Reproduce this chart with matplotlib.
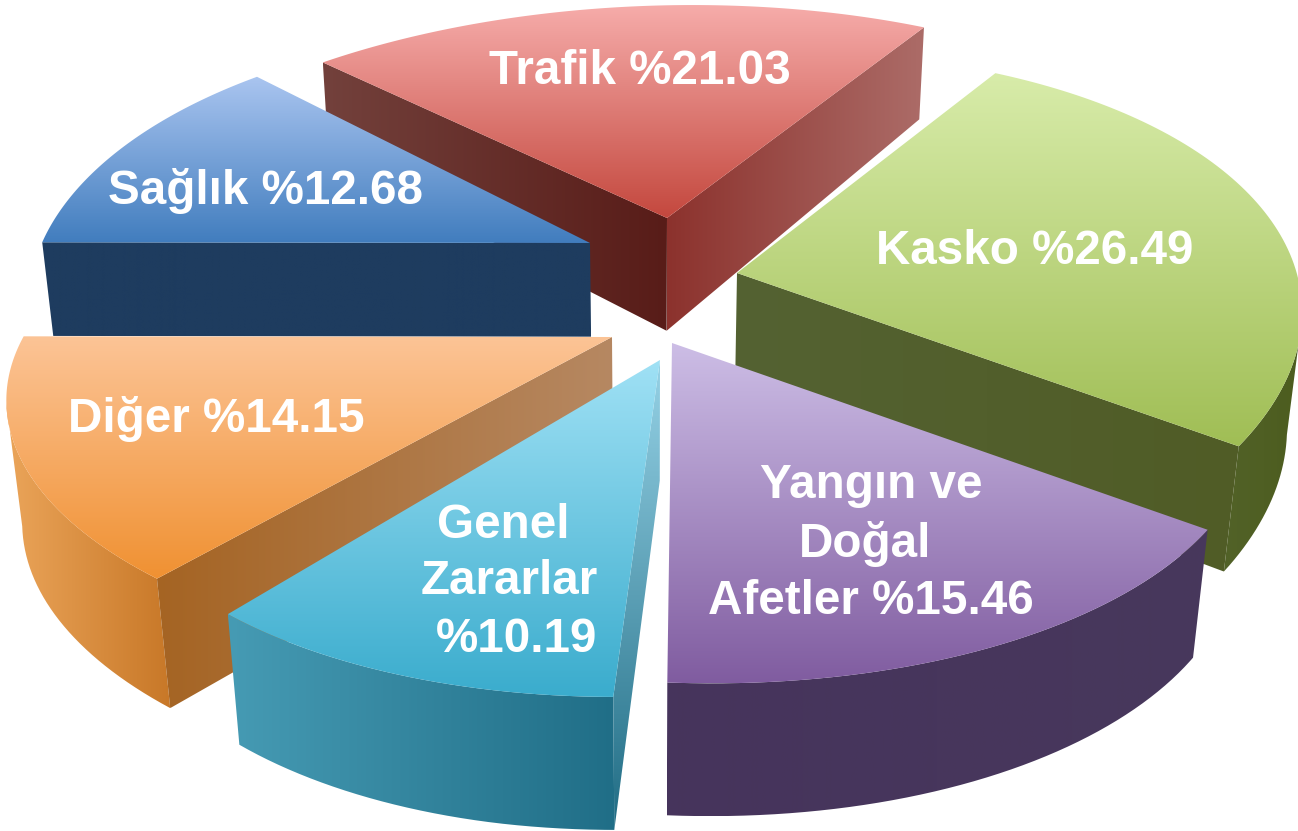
import numpy as np
import matplotlib
matplotlib.use("Agg")
import matplotlib.pyplot as plt
from matplotlib.path import Path
from matplotlib.patches import PathPatch

# ---- data ----
categories = ["Trafik", "Kasko", "Yangın ve Doğal Afetler", "Genel Zararlar", "Diğer", "Sağlık"]
values = [21.03, 26.49, 15.46, 10.19, 14.15, 12.68]
label_lines = [
    ["Trafik %21.03"],
    ["Kasko %26.49"],
    ["Yangın ve", "Doğal", "Afetler %15.46"],
    ["Genel", "Zararlar", "%10.19"],
    ["Diğer %14.15"],
    ["Sağlık %12.68"],
]

# ---- layout ----
W, H = 1298, 831
CENTER = (650, 290)
START = 136.6
A, B, K = 580.0, 263.0, 0.235
explode = [(17, -72), (87, -17), (22, 53), (10, 70), (-38, 47), (-60, -47)]
rot = [0, 1, -3.4, 0, -2.4, -2.4]
scale_x = [1.0, 0.965, 0.96, 0.93, 1.015, 0.945]
scale_y = [1.0, 1.04, 0.99, 0.98, 0.97, 1.03]
shear = [-0.12, -0.2, 0.118, -0.134, 0.0, 0.036]
thick = [1.0, 1.0, 1.0, 1.0, 1.0, 0.82]
VANISH = (650, 5400)
H_Y = [30, 220, 440, 690]
H_V = [92, 113, 125, 133]
label_pos = [
    [(640, 72)],
    [(1035, 252)],
    [(871, 486), (865, 544), (871, 601)],
    [(503, 525), (509, 582), (517, 640)],
    [(216, 419)],
    [(265, 191)],
]

# ---- colours ----
top_c = [((246, 172, 170), (196, 72, 62)), ((216, 236, 170), (160, 190, 85)),
         ((205, 190, 230), (128, 92, 160)), ((160, 225, 245), (58, 172, 205)),
         ((252, 196, 150), (240, 145, 50)), ((170, 197, 240), (65, 125, 190))]
rim_c = [((120, 60, 60), (120, 60, 60)), ((82, 98, 40), (76, 92, 30)),
         ((70, 52, 92), (72, 56, 92)), ((70, 155, 180), (32, 110, 135)),
         ((235, 165, 90), (200, 120, 40)), ((30, 60, 95), (30, 60, 95))]
# cut faces: start edge then end edge, (colour 0, colour 1, vertical)
cut_c = [[((115, 65, 60), (88, 28, 24), False), ((140, 50, 45), (172, 108, 104), False)],
         [((84, 98, 50), (80, 92, 38), False), ((84, 98, 50), (80, 92, 38), False)],
         [((70, 52, 92), (70, 52, 92), False), ((70, 52, 92), (70, 52, 92), False)],
         [((150, 210, 230), (32, 108, 132), True), ((160, 215, 235), (160, 215, 235), False)],
         [((165, 100, 35), (182, 136, 98), False), ((165, 100, 35), (182, 136, 98), False)],
         [((30, 60, 95), (30, 60, 95), False), ((30, 60, 95), (30, 60, 95), False)]]

fig = plt.figure(figsize=(W / 100, H / 100), dpi=100, facecolor="white")
ax = fig.add_axes([0, 0, 1, 1])
ax.set_axis_off()


def project(theta_deg, i):
    t = np.radians(theta_deg + rot[i])
    X, Y = np.cos(t), np.sin(t)
    d = 1 + K * Y
    sy = -B * Y / d * scale_y[i]
    sx = A * X / d * scale_x[i] + shear[i] * sy
    return np.column_stack([sx, sy])


def extrude(pts, scale):
    h = np.interp(pts[:, 1], H_Y, H_V) * scale
    t = h / (VANISH[1] - pts[:, 1])
    out = pts.copy()
    out[:, 0] += (VANISH[0] - pts[:, 0]) * t
    out[:, 1] += h
    return out


def fill(poly, c0, c1, vertical=False):
    poly = np.asarray(poly)
    x0, x1 = poly[:, 0].min(), poly[:, 0].max()
    y0, y1 = poly[:, 1].min(), poly[:, 1].max()
    s = np.linspace(0, 1, 256)[:, None]
    grad = (1 - s) * np.array(c0) / 255 + s * np.array(c1) / 255
    img = grad[:, None, :] if vertical else grad[None, :, :]
    im = ax.imshow(img, extent=(x0, x1, y1, y0), aspect="auto", interpolation="bilinear", zorder=order)
    patch = PathPatch(Path(np.vstack([poly, poly[:1]])), transform=ax.transData, fc="none", ec="none")
    ax.add_patch(patch)
    im.set_clip_path(patch)


def draw_wedge(i, th0, th1):
    rim_t = np.linspace(th0, th1, 90)
    apex = np.array(CENTER, float) + np.array(explode[i])
    rim = project(rim_t, i) + apex
    rim_b = extrude(rim, thick[i])
    apex_b = extrude(apex[None, :], thick[i])[0]
    # rim faces the viewer where it runs right-to-left on screen (clockwise travel)
    tang = np.gradient(rim, axis=0)
    visible = tang[:, 0] < 0
    if visible.any():
        idx = np.where(visible)[0]
        fill(np.vstack([rim[idx], rim_b[idx][::-1]]), *rim_c[i])
    mid = rim[len(rim) // 2] - apex
    for j, end, end_b in ((0, rim[0], rim_b[0]), (1, rim[-1], rim_b[-1])):
        e = end - apex
        n = np.array([-e[1], e[0]])
        if np.dot(n, mid) > 0:
            n = -n
        if n[1] > 0:
            c0, c1, vert = cut_c[i][j]
            fill(np.array([apex, end, end_b, apex_b]), c0, c1, vert)
    fill(np.vstack([apex[None, :], rim]), *top_c[i], vertical=True)


draw_order = [0, 5, 1, 4, 2, 3]
angles = START - 3.6 * np.concatenate([[0], np.cumsum(values)])
order = 1
for i in draw_order:
    order += 1
    draw_wedge(i, angles[i], angles[i + 1])

for lines, pos in zip(label_lines, label_pos):
    for text, (x, y) in zip(lines, pos):
        ax.text(x, y, text, color="white", fontsize=34.3, fontweight="bold",
                family="Liberation Sans", ha="center", va="center", zorder=50)

ax.set_xlim(0, W)
ax.set_ylim(H, 0)
fig.savefig("out.png", dpi=100, facecolor="white")
